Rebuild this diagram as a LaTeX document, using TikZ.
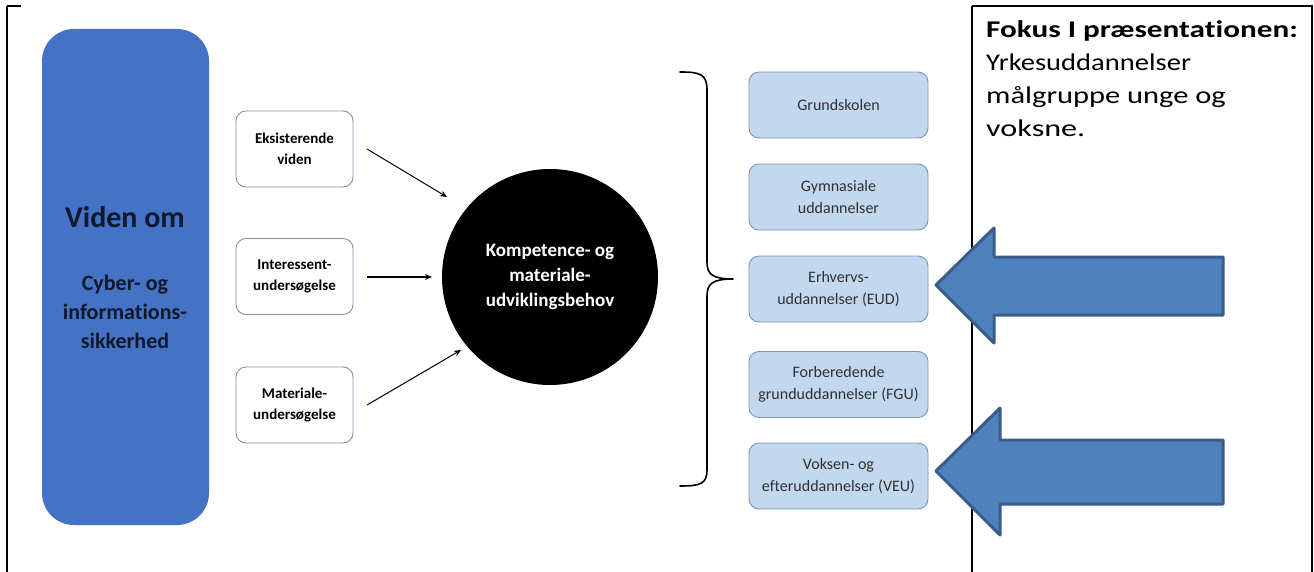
\documentclass[tikz,border=0pt]{standalone}
\usepackage{fontspec}
\usepackage{graphicx}
\setmainfont{Carlito}[Ligatures=NoCommon]
\usetikzlibrary{arrows.meta}
\definecolor{bigblue}{HTML}{4472C4}
\definecolor{navytext}{HTML}{10182E}
\definecolor{lightblue}{HTML}{C2D8EF}
\definecolor{boxedge}{HTML}{7F93AD}
\definecolor{arrowfill}{HTML}{4F81BD}
\definecolor{arrowedge}{HTML}{385D8A}
\definecolor{graytext}{HTML}{303030}
\tikzset{
  whitebox/.style={draw=boxedge, line width=0.9pt, rounded corners=10pt, fill=white,
    minimum width=117pt, minimum height=76pt, align=center, font=\fontsize{15}{21}\selectfont\bfseries},
  eduBox/.style={draw=boxedge, line width=0.9pt, rounded corners=10pt, fill=lightblue,
    minimum width=179pt, minimum height=66pt, align=center, text=graytext, font=\fontsize{16}{22}\selectfont},
  feed/.style={-{Stealth[length=7pt,width=6pt]}, line width=1pt},
  bigarrow/.style={fill=arrowfill, draw=arrowedge, line width=3pt, line join=round},
  frame/.style={line width=2pt},
  fokustext/.style={anchor=base west, inner sep=0pt, font=\fontsize{24}{32}\selectfont}
}
\begin{document}
\begin{tikzpicture}[x=1pt,y=-1pt]
\useasboundingbox (0,0) rectangle (1314,572);
\fill[white] (0,0) rectangle (1314,572);
% frame lines
\draw[frame] (7,6) -- (7,572);
\draw[frame] (7,6) -- (21,6);
\draw[frame] (972,6) -- (1313,6);
\draw[frame] (972,6) -- (972,572);
\draw[frame] (1312,6) -- (1312,572);
% big blue box
\node[fill=bigblue, rounded corners=32pt, minimum width=167pt, minimum height=496pt] (viden) at (125.5,277) {};
\node[text=navytext, font=\fontsize{30}{34}\selectfont\bfseries] (vtitle) at (125,217) {Viden om};
\node[text=navytext, font=\fontsize{22}{29}\selectfont\bfseries, align=center] (vsub) at (125,312) {Cyber- og\\informations-\\sikkerhed};
% input boxes
\node[whitebox] (eks) at (294.5,149) {Eksisterende\\viden};
\node[whitebox] (int) at (294.5,276.5) {Interessent-\\undersøgelse};
\node[whitebox] (mat) at (294.5,405) {Materiale-\\undersøgelse};
% circle
\node[circle, fill=black, minimum size=216pt, text=white, align=center, font=\fontsize{19}{25}\selectfont\bfseries] (komp) at (550,277) {Kompetence- og\\materiale-\\udviklingsbehov};
\coordinate (a1s) at (367,149);
\coordinate (a1e) at (447,197);
\coordinate (a2s) at (367,277);
\coordinate (a2e) at (432,277);
\coordinate (a3s) at (367,405);
\coordinate (a3e) at (461,350);
\draw[feed] (a1s) -- (a1e);
\draw[feed, line width=1.6pt] (a2s) -- (a2e);
\draw[feed] (a3s) -- (a3e);
% brace
\coordinate (btop) at (680,72);
\coordinate (bbot) at (680,486);
\coordinate (btip) at (733,279);
\draw[line width=1.6pt, line cap=round]
  (btop) .. controls (700,72) and (707,74) .. (707,90)
  -- (707,262) .. controls (707,274) and (712,279) .. (btip)
  (btip) .. controls (712,279) and (707,284) .. (707,296)
  -- (707,470) .. controls (707,484) and (700,486) .. (bbot);
% education boxes
\node[eduBox] (grund) at (838.5,105) {Grundskolen};
\node[eduBox] (gym) at (838.5,197) {Gymnasiale\\uddannelser};
\node[eduBox] (eud) at (838.5,289) {Erhvervs-\\uddannelser (EUD)};
\node[eduBox] (fgu) at (838.5,384.5) {Forberedende\\grunduddannelser (FGU)};
\node[eduBox] (veu) at (838.5,476) {Voksen- og\\efteruddannelser (VEU)};
% big arrows
\draw[bigarrow] (936,285) -- (994,228) -- (994,257) -- (1223,257) -- (1223,315) -- (994,315) -- (994,343) -- cycle;
\draw[bigarrow] (936,471) -- (1000,408) -- (1000,440) -- (1223,440) -- (1223,504) -- (1000,504) -- (1000,535) -- cycle;
% right column text
\node[fokustext] (fokus1) at (986,38) {\scalebox{1.3}[1]{\textbf{Fokus I præsentationen:}}};
\node[fokustext] (fokus2) at (986,71) {\scalebox{1.19}[1]{Yrkesuddannelser}};
\node[fokustext] (fokus3) at (986,104) {\scalebox{1.27}[1]{målgruppe unge og}};
\node[fokustext] (fokus4) at (986,137) {\scalebox{1.34}[1]{voksne.}};
\end{tikzpicture}
\end{document}
